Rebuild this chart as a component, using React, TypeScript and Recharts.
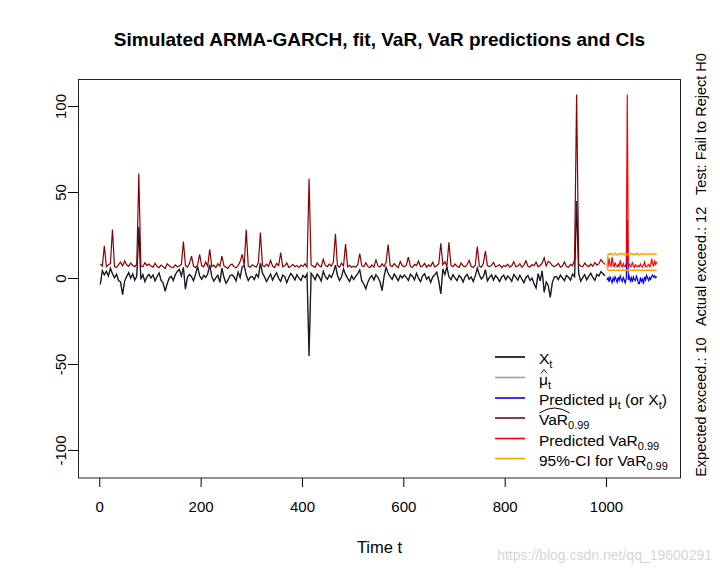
import { LineChart, Line, XAxis, YAxis } from 'recharts'

// time index: t = 1, 5, 9, ... (observed), then t = 1001, 1003, ... (predicted)
const histStart = 1
const histStep = 4
const predStart = 1001
const predStep = 2

const xVals = [
  -3.5, 4.5, 2.1, 4.2, 1.5, 6.0, 2.8, 0.4, 2.5, -1.2, -2.0, -9.4, -1.5, 1.2, 3.4, 0.2, 2.6, -1.0, 1.4, 30.0, -0.5, 2.2, -1.8, 0.9, 2.4,
  0.3, 2.1, -1.4, 1.0, 3.2, -1.1, -2.6, -7.4, -3.0, 0.2, 1.3, -1.2, 2.2, 4.1, 5.2, 1.4, 6.5, -6.2, 0.8, 2.3, 1.1, -1.3, 2.5, 7.0, 1.6,
  -0.4, 1.8, 0.6, 2.7, 8.0, 1.2, -1.5, 0.3, 1.9, -2.2, 6.0, 0.7, -2.8, -1.0, 1.6, 2.2, 0.9, -1.4, 3.8, 0.5, 6.8, 7.5, 2.0, -1.2, 0.8,
  1.2, -0.6, 2.4, 0.8, 9.0, 3.1, 1.0, -1.8, 0.4, 2.6, -0.9, 1.5, 3.3, 0.1, -1.6, 2.0, 1.1, -2.4, 0.6, 2.9, 1.4, -0.8, 2.2, 0.3, -1.1,
  1.8, 0.5, 2.7, -45.0, 3.1, 1.4, -0.7, 2.5, 0.9, -1.5, 4.2, 1.0, -0.4, 2.1, 0.6, 3.4, 7.8, 1.9, -1.2, 0.8, 5.5, 2.4, 0.2, -1.7, 1.5,
  -0.6, 1.3, 2.8, 5.0, -1.4, -3.2, -6.0, -2.1, 0.4, 1.7, -0.9, 2.2, 0.6, -1.8, -7.0, 1.2, 6.5, 3.0, 1.1, -0.5, 2.6, 0.8, -1.3, 1.9, 0.4,
  2.0, 0.7, -1.1, 2.5, 1.3, -0.8, 3.0, 0.2, -1.9, 1.6, 2.8, -0.4, 1.0, -2.2, 0.9, 2.1, 3.6, -1.5, -9.0, 5.5, 2.3, 6.8, 1.0, -0.7, 2.2,
  0.4, -1.3, 1.8, 0.6, -2.0, 1.1, 2.4, -0.5, 0.9, -1.7, 1.5, 6.0, 2.2, -0.3, 1.0, 5.2, -1.4, 0.6, 2.1, -0.9, 1.7, 0.3, -1.8, 0.8, 2.0,
  -0.7, 1.4, 0.2, -1.6, 2.3, 0.8, -1.0, 1.9, -0.4, -2.5, 0.6, 1.7, -1.2, 0.3, -3.0, -5.5, 2.8, -1.4, 4.5, -8.0, -2.0, -4.0, -11.0, -2.5, 0.8,
  1.2, -0.6, 2.0, 0.4, -1.3, 1.8, 0.7, -0.9, 2.5, 1.0, 45.0, 3.2, -1.6, 0.5, 2.2, -0.8, 1.4, 3.0, 0.6, -1.1, 2.4, 1.5, 4.0, 2.8, 1.6,
]

// fitted VaR_0.99 (same time steps)
const varHatVals = [
  8.5, 7.2, 19.0, 6.8, 7.9, 8.8, 28.5, 7.0, 6.4, 8.1, 9.5, 7.3, 10.2, 8.0, 7.1, 9.0, 7.6, 6.9, 8.3, 61.0, 7.4, 6.8, 9.2, 7.5, 8.4,
  7.2, 6.6, 8.9, 7.0, 6.3, 7.8, 6.9, 5.8, 8.5, 7.4, 6.7, 6.2, 7.9, 6.8, 7.3, 8.2, 21.5, 7.6, 6.5, 8.8, 13.0, 7.1, 6.4, 8.0, 14.0,
  7.5, 6.8, 9.6, 7.2, 17.0, 6.9, 7.8, 6.3, 8.6, 7.1, 13.0, 7.4, 6.6, 5.9, 7.7, 8.4, 6.8, 6.2, 7.5, 9.8, 14.0, 7.8, 28.5, 7.2, 6.5,
  8.0, 7.3, 6.6, 9.4, 26.7, 7.6, 6.9, 8.3, 7.0, 10.5, 7.2, 6.4, 8.8, 7.5, 15.0, 6.8, 7.4, 9.0, 6.5, 7.1, 8.2, 6.9, 7.6, 6.3, 7.8,
  7.0, 8.5, 6.7, 58.0, 7.9, 7.2, 6.5, 9.1, 7.4, 6.8, 11.2, 7.6, 6.9, 8.4, 7.1, 9.6, 26.0, 7.5, 6.6, 8.9, 7.3, 20.0, 6.8, 7.7, 6.4,
  7.2, 6.5, 8.0, 14.5, 7.4, 6.8, 9.2, 7.1, 6.3, 7.9, 6.6, 10.8, 7.3, 6.7, 8.5, 7.0, 9.4, 19.8, 7.6, 6.9, 8.7, 7.2, 6.4, 9.9, 7.5,
  6.8, 7.7, 12.5, 7.0, 6.4, 8.2, 7.5, 10.1, 6.9, 7.3, 8.8, 6.6, 7.9, 7.1, 9.5, 6.7, 7.4, 8.6, 20.5, 8.0, 9.7, 7.2, 21.0, 7.6, 6.9,
  8.4, 7.1, 6.5, 9.0, 7.3, 6.8, 8.1, 10.6, 7.0, 6.4, 7.8, 18.6, 7.2, 6.6, 8.9, 16.0, 7.5, 6.9, 7.7, 9.3, 6.7, 7.4, 8.0, 6.3, 7.6,
  7.0, 8.3, 6.6, 7.4, 9.8, 6.9, 7.2, 8.6, 6.5, 7.8, 10.3, 7.1, 6.7, 8.1, 7.4, 9.5, 6.8, 7.6, 8.9, 12.0, 7.3, 10.0, 9.2, 7.5, 6.9,
  7.7, 8.8, 6.6, 7.2, 9.6, 7.0, 6.5, 8.2, 7.4, 10.9, 107.0, 8.5, 7.3, 6.8, 9.0, 7.6, 6.9, 8.4, 7.1, 9.3, 7.8, 8.6, 11.0, 9.4, 8.2,
]

// predictions, t = 1001..1099 every 2nd step
const predMuVals = [
  -1.0, 0.5, -2.0, 1.2, -0.8, -2.5, 0.3, -1.4, 1.0, -0.5, -2.2, 0.8, -1.1, 1.5, -0.3, -1.8, 0.6, -0.9, -2.6, 0.2,
  34.0, -0.7, 1.1, -1.5, 0.4, -2.0, 0.9, -0.6, -1.3, 1.4, -0.2, -2.8, -3.0, 0.7, -1.6, -0.4, -3.2, 1.0, -0.8, 1.8,
  0.3, -1.2, 0.6, -0.5, 1.3, 2.0, 0.8, 1.5, 0.4, 1.1,
]
const predVarVals = [
  8.5, 7.2, 11.8, 8.0, 7.1, 12.5, 7.6, 6.9, 9.4, 7.3, 6.8, 8.2, 7.0, 10.6, 7.5, 6.6, 8.8, 7.2, 6.9, 9.0,
  107.0, 7.4, 8.3, 6.7, 7.9, 9.2, 7.1, 6.5, 8.0, 7.3, 6.8, 7.6, 6.9, 8.4, 7.2, 6.6, 7.8, 9.5, 7.0, 6.8,
  7.5, 8.1, 6.9, 7.3, 11.5, 8.6, 7.4, 10.0, 8.2, 9.6,
]
const ciUpperVals = [
  5.6, 14.0, 14.4, 13.8, 14.6, 14.1, 13.7, 14.3, 14.8, 14.0, 13.6, 14.2, 14.5, 13.9, 14.3, 14.7, 14.0, 13.8, 14.4, 14.1,
  13.7, 14.5, 14.2, 13.9, 14.6, 14.0, 14.3, 13.8, 14.4, 14.1, 14.8, 14.0, 13.7, 14.3, 14.5, 13.9, 14.2, 14.6, 14.0, 13.8,
  14.4, 14.1, 13.9, 14.5, 14.2, 14.0, 14.6, 14.3, 13.9, 14.4,
]
const ciLowerVals = [
  5.4, 4.9, 4.8, 4.9, 4.7, 4.8, 4.9, 4.8, 4.8, 4.7, 4.8, 4.9, 4.8, 4.7, 4.8, 4.8, 4.9, 4.8, 4.7, 4.8,
  4.8, 4.9, 4.8, 4.7, 4.8, 4.9, 4.8, 4.8, 4.7, 4.8, 4.9, 4.8, 4.8, 4.7, 4.8, 4.9, 4.8, 4.8, 4.7, 4.8,
  4.9, 4.8, 4.8, 4.7, 4.8, 4.9, 4.8, 4.8, 4.7, 4.8,
]

const xTicks = [0, 200, 400, 600, 800, 1000]
const yTicks = [-100, -50, 0, 50, 100]

const rows: Record<string, number>[] = []
xVals.forEach((v, i) => rows.push({ t: histStart + histStep * i, x: v, varHat: varHatVals[i] }))
predMuVals.forEach((v, i) =>
  rows.push({
    t: predStart + predStep * i,
    predMu: v,
    predVar: predVarVals[i],
    ciUp: ciUpperVals[i],
    ciLo: ciLowerVals[i],
  })
)

const FONT = 'Liberation Sans, Arial, Helvetica, sans-serif'

const XTick = (props: any) => (
  <text x={props.x} y={props.y} dy={25} textAnchor="middle" fontSize={15} fontFamily={FONT} fill="#000">
    {props.payload.value}
  </text>
)

const YTick = (props: any) => (
  <text
    transform={`translate(${props.x},${props.y}) rotate(-90)`}
    textAnchor="middle"
    fontSize={15}
    fontFamily={FONT}
    fill="#000"
  >
    {props.payload.value}
  </text>
)

const legendRows = [
  { color: '#000000', y: 357 },
  { color: '#9999cc', y: 377.5 },
  { color: '#0000ff', y: 398 },
  { color: '#8b0000', y: 418 },
  { color: '#ff0000', y: 438.5 },
  { color: '#ffa500', y: 458.5 },
]

function Overlay() {
  const tx = 539
  const fs = 15.5
  const sub = { fontSize: 11 }
  const b = (y: number) => y + 7.3
  return (
    <svg width={720} height={576} style={{ position: 'absolute', left: 0, top: 0, pointerEvents: 'none' }} fontFamily={FONT}>
      <rect x={78.5} y={79.5} width={602} height={398.5} fill="none" stroke="#222" strokeWidth={1} />
      <text x={379.5} y={46} textAnchor="middle" fontSize={19} fontWeight="bold" fill="#000">
        Simulated ARMA-GARCH, fit, VaR, VaR predictions and CIs
      </text>
      <text x={379.5} y={553} textAnchor="middle" fontSize={16.5} fill="#000">
        Time t
      </text>
      <text transform="translate(706,265) rotate(-90)" textAnchor="middle" fontSize={14.5} fill="#000" xmlSpace="preserve" style={{ whiteSpace: 'pre' }}>
        {'Expected exceed.: 10   Actual exceed.: 12   Test: Fail to Reject H0'}
      </text>
      <text x={712} y={560} textAnchor="end" fontSize={14} fill="#d6d6d6">
        https://blog.csdn.net/qq_19600291
      </text>
      {legendRows.map((r) => (
        <line key={r.y} x1={495} x2={525} y1={r.y} y2={r.y} stroke={r.color} strokeWidth={1.6} />
      ))}
      <g fontSize={fs} fill="#000">
        <text x={tx} y={b(357)}>
          X<tspan {...sub} dy={4}>t</tspan>
        </text>
        <text x={tx} y={b(377.5)}>
          μ<tspan {...sub} dy={4}>t</tspan>
        </text>
        <text x={tx} y={b(398)}>
          Predicted μ<tspan {...sub} dy={4}>t</tspan>
          <tspan dy={-4}> (or X</tspan>
          <tspan {...sub} dy={4}>t</tspan>
          <tspan dy={-4}>)</tspan>
        </text>
        <text x={tx} y={b(418)}>
          VaR<tspan {...sub} dy={4}>0.99</tspan>
        </text>
        <text x={tx} y={b(438.5)}>
          Predicted VaR<tspan {...sub} dy={4}>0.99</tspan>
        </text>
        <text x={tx} y={b(458.5)}>
          95%-CI for VaR<tspan {...sub} dy={4}>0.99</tspan>
        </text>
      </g>
      <path d="M541,373.5 L544,369.5 L547,373.5" fill="none" stroke="#000" strokeWidth={0.9} />
      <path d="M539.5,413 Q554.5,403 569.5,413" fill="none" stroke="#000" strokeWidth={1} />
    </svg>
  )
}

export default function App() {
  return (
    <div style={{ position: 'absolute', left: 0, top: 0, width: 720, height: 576, background: '#fff' }}>
      <LineChart width={720} height={576} data={rows} margin={{ top: 79, right: 39, bottom: 0, left: 0 }}>
        <XAxis
          dataKey="t"
          type="number"
          domain={[-43, 1147]}
          ticks={xTicks}
          height={98}
          axisLine={false}
          tickSize={9}
          tickMargin={0}
          tickLine={{ stroke: '#000' }}
          tick={<XTick />}
          allowDataOverflow
        />
        <YAxis
          type="number"
          domain={[-116, 116]}
          ticks={yTicks}
          width={78}
          axisLine={false}
          tickSize={10}
          tickMargin={2}
          tickLine={{ stroke: '#000' }}
          tick={<YTick />}
          allowDataOverflow
        />
        <Line dataKey="x" stroke="#000000" strokeWidth={1.3} dot={false} isAnimationActive={false} />
        <Line dataKey="x" stroke="#5c5ca8" strokeOpacity={0.35} strokeWidth={0.8} dot={false} isAnimationActive={false} />
        <Line dataKey="varHat" stroke="#8b0000" strokeWidth={1.2} dot={false} isAnimationActive={false} />
        <Line dataKey="predMu" stroke="#0000ff" strokeWidth={1.2} dot={false} isAnimationActive={false} />
        <Line dataKey="predVar" stroke="#ff0000" strokeWidth={1.2} dot={false} isAnimationActive={false} />
        <Line dataKey="ciUp" stroke="#ffa500" strokeWidth={1.4} dot={false} isAnimationActive={false} />
        <Line dataKey="ciLo" stroke="#ffa500" strokeWidth={1.4} dot={false} isAnimationActive={false} />
      </LineChart>
      <Overlay />
    </div>
  )
}
